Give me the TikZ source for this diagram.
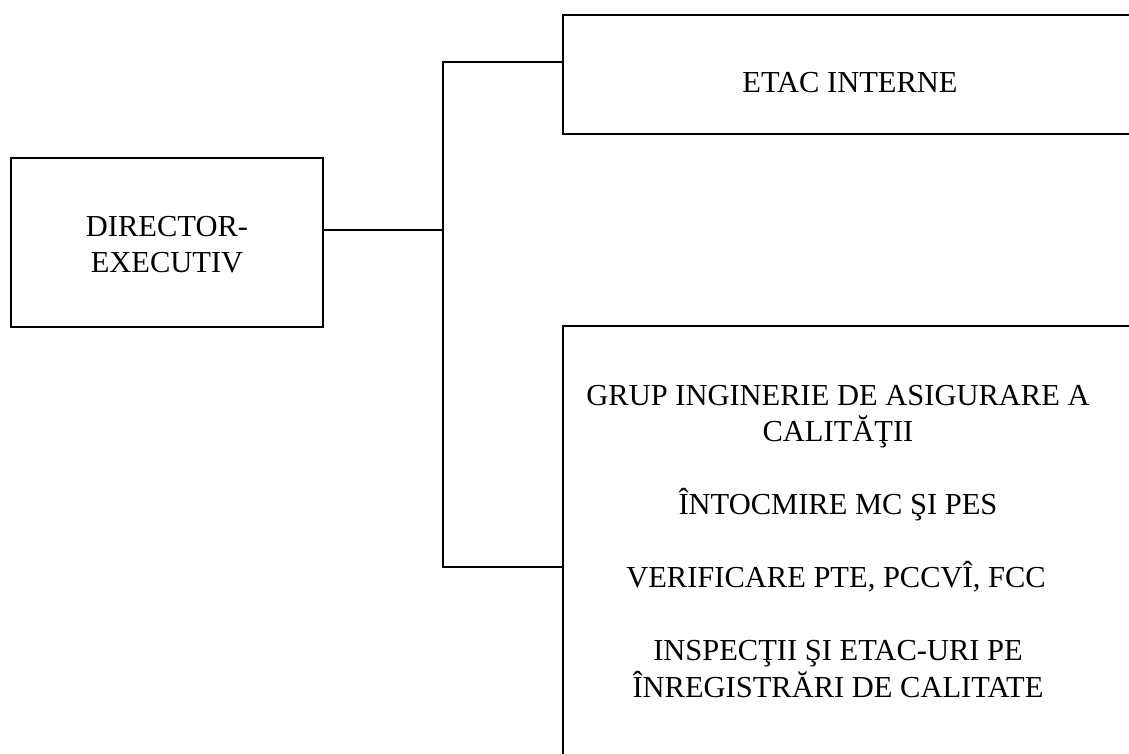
\documentclass[tikz,border=0pt]{standalone}
\usepackage{fontspec}
\setmainfont{Liberation Serif}
\begin{document}
\begin{tikzpicture}[x=1pt,y=-1pt,
  frame/.style={draw=black,line width=1.6pt,inner sep=0pt,outer sep=0pt},
  conn/.style={draw=black,line width=1.6pt},
  lbl/.style={inner sep=0pt,anchor=base,font=\fontsize{30.5}{36}\selectfont}]
\useasboundingbox (0,0) rectangle (1129,753);
% boxes
\node[frame,minimum width=312pt,minimum height=169pt] (dir) at (167,242.5) {};
\node[frame,minimum width=577pt,minimum height=119pt] (top) at (851.5,74.5) {};
\node[frame,minimum width=577pt,minimum height=444pt] (low) at (851.5,548) {};
% texts
\node[lbl] (d1) at (167,236) {DIRECTOR-};
\node[lbl] (d2) at (167,272) {EXECUTIV};
\node[lbl] (t1) at (850,92) {ETAC INTERNE};
\node[lbl] (l1) at (838,405) {GRUP INGINERIE DE ASIGURARE A};
\node[lbl] (l2) at (838,441) {CALITĂŢII};
\node[lbl] (l3) at (838,514) {ÎNTOCMIRE MC ŞI PES};
\node[lbl] (l4) at (836,587) {VERIFICARE PTE, PCCVÎ, FCC};
\node[lbl] (l5) at (838,660) {INSPECŢII ŞI ETAC-URI PE};
\node[lbl] (l6) at (838,697) {ÎNREGISTRĂRI DE CALITATE};
% connectors
\coordinate (jt) at (443,62);
\coordinate (jb) at (443,567);
\coordinate (jm) at (443,230);
\draw[conn] (dir.east |- jm) -- (jm);
\draw[conn] (top.west |- jt) -- (jt) -- (jb) -- (low.west |- jb);
\end{tikzpicture}
\end{document}
